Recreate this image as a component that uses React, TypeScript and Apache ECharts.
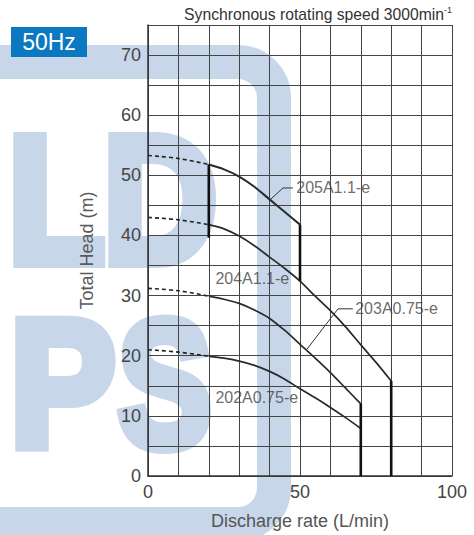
import React, { useEffect, useRef } from 'react';
import * as echarts from 'echarts';

// ---- data ----
const xTickValues = [0, 50, 100];
const yTickValues = [0, 10, 20, 30, 40, 50, 60, 70];

const dashFlow = [0, 10, 20];
const dash205 = [53.3, 52.8, 51.8];
const dash204 = [43.0, 42.6, 41.8];
const dash203 = [31.2, 30.8, 29.9];
const dash202 = [21.0, 20.6, 19.9];

const flow205 = [20, 25, 30, 35, 40, 45, 50];
const head205 = [51.8, 51.0, 49.8, 48.1, 46.0, 43.9, 41.8];
const flow204 = [20, 25, 30, 35, 40, 45, 50, 55, 60, 65, 70, 75, 80];
const head204 = [41.8, 41.1, 39.9, 38.3, 36.4, 34.5, 32.4, 29.9, 27.5, 24.8, 21.8, 18.9, 15.8];
const flow203 = [20, 25, 30, 35, 40, 45, 50, 55, 60, 65, 70];
const head203 = [29.9, 29.4, 28.7, 27.6, 26.2, 24.2, 21.9, 19.6, 17.2, 14.6, 12.0];
const flow202 = [20, 25, 30, 35, 40, 45, 50, 55, 60, 65, 70];
const head202 = [19.9, 19.6, 19.1, 18.4, 17.4, 16.1, 14.5, 13.0, 11.4, 9.7, 7.9];

const limitFlow = [20, 50, 70, 80];
const limitTop = [51.8, 41.8, 12.0, 15.8];
const limitBottom = [39.6, 32.4, 0, 0];

const curveNames = ['205A1.1-e', '204A1.1-e', '203A0.75-e', '202A0.75-e'];
const labelFlow = [48.6, 22.0, 68.0, 22.0];
const labelHead = [47.9, 32.9, 27.8, 13.0];

const leader205Flow = [40.1, 44.4, 47.7];
const leader205Head = [45.9, 47.9, 47.9];
const leader203Flow = [52.3, 62.5, 67.4];
const leader203Head = [21.1, 27.8, 27.8];

const FONT = '"Liberation Sans", Arial, Helvetica, sans-serif';
const WM = 'rgb(200,214,234)';

const zip = (xs: number[], ys: number[]) => xs.map((x, i) => [x, ys[i]]);

export default function App() {
  const ref = useRef<HTMLDivElement>(null);
  useEffect(() => {
    if (!ref.current) return;
    const chart = echarts.init(ref.current, null, { renderer: 'svg' });

    const dashed = (d: number[]) => ({
      type: 'line', data: zip(dashFlow, d), smooth: 0.4, symbol: 'none', silent: true, z: 3,
      lineStyle: { color: '#222', width: 1.6, type: [4, 3] },
    });
    const solid = (f: number[], h: number[], w: number) => ({
      type: 'line', data: zip(f, h), smooth: 0.3, symbol: 'none', silent: true, z: 3,
      lineStyle: { color: '#2a2a2a', width: w },
    });
    const limits = limitFlow.map((f, i) => ({
      type: 'line', data: [[f, limitTop[i]], [f, limitBottom[i]]], symbol: 'none', silent: true, z: 4,
      lineStyle: { color: '#111', width: 2.6 },
    }));
    const leaders = [
      zip(leader205Flow, leader205Head),
      zip(leader203Flow, leader203Head),
    ].map((d) => ({
      type: 'line', data: d, symbol: 'none', silent: true, z: 3,
      lineStyle: { color: '#333', width: 1 },
    }));

    const wmText = (t: string, x: number, y: number, sx: number) => ({
      type: 'text', z: -10, x, y, scaleX: sx, silent: true,
      style: {
        text: t, fontSize: 180, fontWeight: 'bold', fontFamily: FONT,
        fill: WM, stroke: WM, lineWidth: 12, lineJoin: 'round',
        align: 'left', verticalAlign: 'middle', textAlign: 'left', textVerticalAlign: 'middle',
      },
    });

    chart.setOption({
      animation: false,
      backgroundColor: '#fff',
      grid: { left: 148, right: 22, top: 25, bottom: 54, containLabel: false },
      xAxis: {
        type: 'value', min: 0, max: 100, interval: 10,
        name: 'Discharge rate (L/min)', nameLocation: 'middle', nameGap: 36,
        nameTextStyle: { fontSize: 18, color: '#555', fontFamily: FONT },
        axisLine: { show: true, lineStyle: { color: '#333', width: 1.5 } },
        axisTick: { show: false },
        axisLabel: {
          fontSize: 18, color: '#444', fontFamily: FONT, margin: 7,
          formatter: (v: number) => (xTickValues.includes(v) ? String(v) : ''),
        },
        splitLine: { show: true, lineStyle: { color: '#444', width: 1 } },
      },
      yAxis: {
        type: 'value', min: 0, max: 75, interval: 5,
        name: 'Total Head (m)', nameLocation: 'middle', nameGap: 52,
        nameTextStyle: { fontSize: 18, color: '#5a5a5a', fontFamily: FONT },
        axisLine: { show: true, lineStyle: { color: '#333', width: 1.5 } },
        axisTick: { show: false },
        axisLabel: {
          fontSize: 18, color: '#444', fontFamily: FONT, margin: 7,
          formatter: (v: number) => (yTickValues.includes(v) ? String(v) : ''),
        },
        splitLine: { show: true, lineStyle: { color: '#444', width: 1 } },
      },
      graphic: [
        {
          type: 'rect', z: -10, silent: true,
          shape: { x: -200, y: 62, width: 474, height: 462, r: 36 },
          style: { fill: 'none', stroke: WM, lineWidth: 34 },
        },
        wmText('L', 8, 200, 0.88),
        wmText('D', 103, 200, 0.88),
        wmText('P', 10, 384, 0.88),
        wmText('S', 118, 384, 0.78),
        {
          type: 'rect', z: 10, silent: true,
          shape: { x: 11, y: 27, width: 76, height: 30 },
          style: { fill: '#0b78c1' },
        },
        {
          type: 'text', z: 11, x: 49, y: 42, silent: true,
          style: {
            text: '50Hz', fill: '#fff', fontSize: 23, fontFamily: FONT,
            align: 'center', verticalAlign: 'middle', textAlign: 'center', textVerticalAlign: 'middle',
          },
        },
        {
          type: 'text', z: 11, x: 452, y: 14, silent: true,
          style: {
            text: 'Synchronous rotating speed 3000min{sup|-1}',
            fill: '#333', fontSize: 15.7, fontFamily: FONT, lineHeight: 18,
            rich: { sup: { fontSize: 9, fill: '#333', fontFamily: FONT, verticalAlign: 'top', lineHeight: 18 } },
            align: 'right', verticalAlign: 'middle', textAlign: 'right', textVerticalAlign: 'middle',
          },
        },
      ],
      series: [
        dashed(dash205), dashed(dash204), dashed(dash203), dashed(dash202),
        solid(flow205, head205, 2),
        solid(flow204, head204, 1.7),
        solid(flow203, head203, 1.7),
        solid(flow202, head202, 1.7),
        ...limits,
        ...leaders,
        {
          type: 'scatter', silent: true, z: 5, symbolSize: 1,
          itemStyle: { color: 'rgba(0,0,0,0)' },
          data: curveNames.map((n, i) => ({ value: [labelFlow[i], labelHead[i]], name: n })),
          label: {
            show: true, position: 'right', distance: 0,
            formatter: (p: any) => p.name,
            fontSize: 16, color: '#444', fontFamily: FONT,
          },
        },
      ],
    } as any);
    return () => chart.dispose();
  }, []);
  return <div ref={ref} style={{ position: 'fixed', left: 0, top: 0, width: 474, height: 535 }} />;
}
